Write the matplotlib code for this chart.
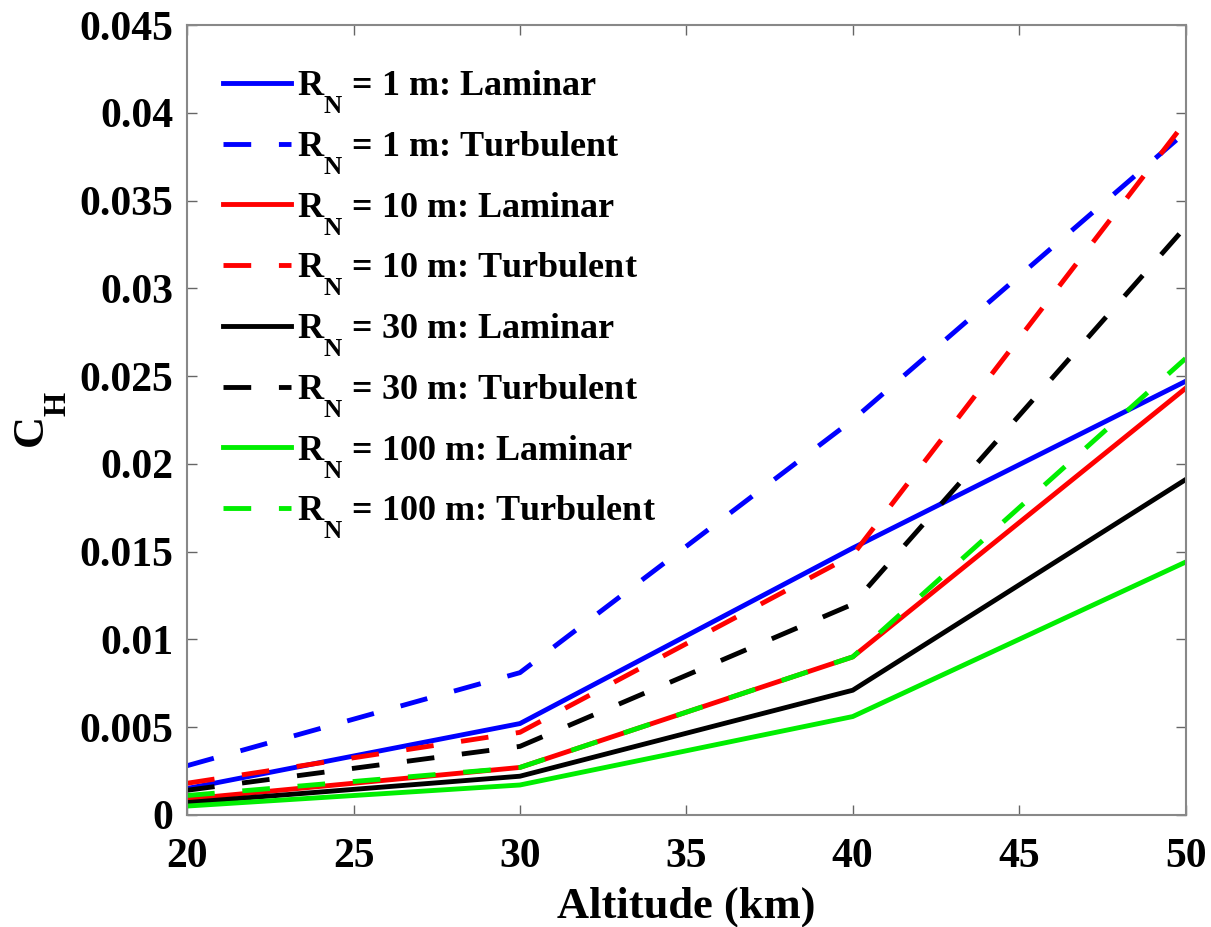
import matplotlib
matplotlib.use('Agg')
import matplotlib.pyplot as plt
import matplotlib._mathtext as mathtext_internals

# altitude points (km)
altitude = [20, 30, 40, 50]

# heat transfer coefficient C_H
rn1_laminar = [0.0015, 0.0052, 0.0152, 0.0247]
rn1_turbulent = [0.0028, 0.0081, 0.0225, 0.0389]
rn10_laminar = [0.0009, 0.0027, 0.0090, 0.0243]
rn10_turbulent = [0.0018, 0.0047, 0.0148, 0.0395]
rn30_laminar = [0.0007, 0.0022, 0.0071, 0.0191]
rn30_turbulent = [0.0014, 0.0039, 0.0120, 0.0335]
rn100_laminar = [0.0005, 0.0017, 0.0056, 0.0144]
rn100_turbulent = [0.0011, 0.0027, 0.0090, 0.0260]

x_ticks = [20, 25, 30, 35, 40, 45, 50]
y_ticks = [0, 0.005, 0.01, 0.015, 0.02, 0.025, 0.03, 0.035, 0.04, 0.045]
y_tick_labels = ['0', '0.005', '0.01', '0.015', '0.02', '0.025', '0.03',
                 '0.035', '0.04', '0.045']


class LowSubscripts(mathtext_internals.FontConstantsBase):
    # subscripts sit lower in the original (MATLAB style)
    sub1 = 1.1
    sub2 = 1.1


def main():
    mathtext_internals._font_constant_mapping['Liberation Serif'] = \
        LowSubscripts
    plt.rcParams['font.family'] = ['Liberation Serif', 'DejaVu Serif']
    plt.rcParams['font.weight'] = 'bold'
    plt.rcParams['mathtext.fontset'] = 'custom'
    plt.rcParams['mathtext.rm'] = 'Liberation Serif:bold'
    plt.rcParams['mathtext.bf'] = 'Liberation Serif:bold'
    plt.rcParams['mathtext.it'] = 'Liberation Serif:bold'

    fig = plt.figure(figsize=(12.11, 9.27), dpi=100)
    ax = fig.add_axes([0.1545, 0.121, 0.8245, 0.852])

    lw = 3.5
    dash = (5.7, 5.7)
    green = '#00ee00'
    series = [
        (rn1_laminar, 'blue', '-', '1 m: Laminar'),
        (rn1_turbulent, 'blue', '--', '1 m: Turbulent'),
        (rn10_laminar, 'red', '-', '10 m: Laminar'),
        (rn10_turbulent, 'red', '--', '10 m: Turbulent'),
        (rn30_laminar, 'black', '-', '30 m: Laminar'),
        (rn30_turbulent, 'black', '--', '30 m: Turbulent'),
        (rn100_laminar, green, '-', '100 m: Laminar'),
        (rn100_turbulent, green, '--', '100 m: Turbulent'),
    ]
    for values, color, style, text in series:
        line, = ax.plot(altitude, values, color=color, linestyle=style,
                        linewidth=lw,
                        label=r'$\mathrm{R}_{\mathrm{N}}$ = ' + text)
        if style == '--':
            line.set_dashes(dash)

    ax.set_xlim(20, 50)
    ax.set_ylim(0, 0.045)
    ax.set_xticks(x_ticks)
    ax.set_yticks(y_ticks)
    ax.set_yticklabels(y_tick_labels)
    ax.tick_params(direction='in', top=True, right=True, length=7,
                   width=1, labelsize=30, color='#666666')
    ax.tick_params(axis='x', pad=17)
    ax.tick_params(axis='y', pad=10)
    for spine in ax.spines.values():
        spine.set_color('#888888')
        spine.set_linewidth(1.5)

    ax.set_xlabel('Altitude (km)', fontsize=32, fontweight='bold',
                  labelpad=7)
    ax.set_ylabel(r'$\mathrm{C}_{\mathrm{H}}$', fontsize=32,
                  fontweight='bold', labelpad=8)

    ax.legend(loc='upper left', frameon=False, fontsize=26,
              handlelength=1.9, handletextpad=0.15, labelspacing=0.36,
              borderaxespad=0.0, bbox_to_anchor=(0.021, 0.963))

    fig.savefig('out.png', dpi=100)


if __name__ == '__main__':
    main()
